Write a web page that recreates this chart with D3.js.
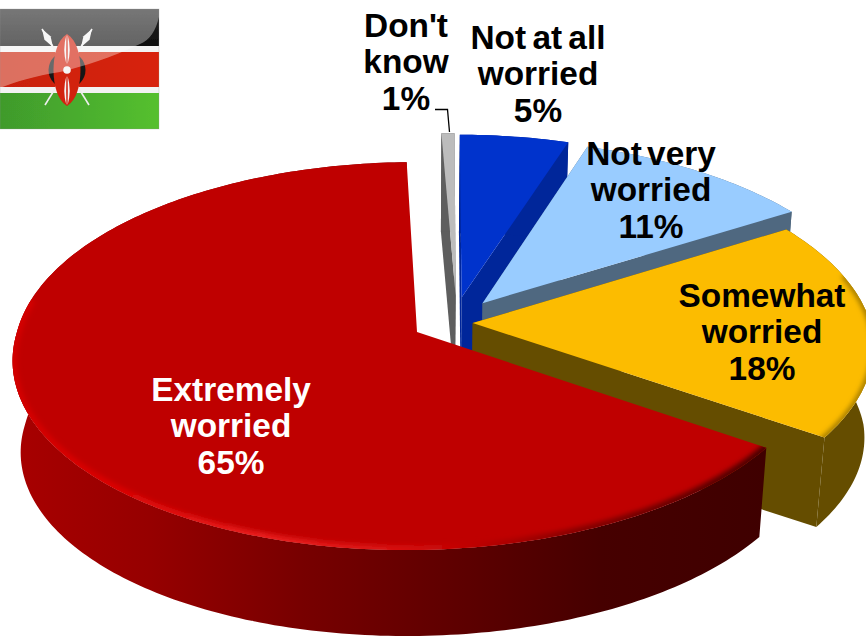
<!DOCTYPE html>
<html><head><meta charset="utf-8">
<script src="https://cdn.jsdelivr.net/npm/d3@7"></script>
<style>html,body{margin:0;padding:0;background:#fff}svg{display:block}</style>
</head><body><svg id="c" width="866" height="638"></svg>
<script>
// ---- data (clockwise from 12 o'clock)
const categories = ["Not at all worried","Not very worried","Somewhat worried","Extremely worried","Don't know"];
const shares = [5, 11, 18.4, 65, 0.6];            // slice sweep
const percentLabels = ["5%","11%","18%","65%","1%"];
const labelLines = [["Not at all","worried"],["Not very","worried"],["Somewhat","worried"],["Extremely","worried"],["Don't","know"]];

// ---- look & layout
const W=866,H=638;
const topColors  = ["#0033cc","#99ccff","#fcbc00","#bf0000","#bcbcbc"];
const sideColors = ["#00269a","#4f6880","#654d00","url(#redRim)","#5e5e5e"];
const textColors = ["#000","#000","#000","#fff","#000"];
const explodeX = [.114,.167,.14,0,.099];   // slice offset on the pie's plane, in radii
const explodeZ = [.185,.154,.047,0,.195];
const labelAt = [[538,37],[651,153],[762,295],[231,389],[406,25]];
const wordGap = [-3,-4,0,0,0];
const drawOrder = [4,0,1,2,3];
const cx=417, cy=332, R=400, T=191, K=.124, DEPTH=86, SHEAR=.05, startDeg=.5;

const svg=d3.select("#c");
const defs=svg.append("defs");
const xS=d3.scaleLinear().domain([-1,1]).range([cx-R,cx+R]);
const yS=d3.scaleLinear().domain([-1,1]).range([cy+T,cy-T]);
const toRad=d=>d*Math.PI/180;
const line=d3.line();

function project(i,theta,r,drop){
  const X=explodeX[i]+r*Math.sin(theta), Z=explodeZ[i]+r*Math.cos(theta);
  const s=1/(1+K*Z);
  const y=yS(Z*s);
  const x=xS(X*s)-SHEAR*Math.max(0,y-cy);
  // the underside sits further from the eye, so it reads slightly smaller
  return drop ? [cx+(x-cx)*.98, y+DEPTH+(550-y)*.03] : [x,y];
}
function rim(i,a,b,drop){
  const n=Math.max(2,Math.ceil(Math.abs(b-a)/toRad(1)));
  return d3.range(n+1).map(k=>project(i,a+(b-a)*k/n,1,drop));
}

// gradients
function grad(id,x1,x2,stops){
  const g=defs.append("linearGradient").attr("id",id).attr("gradientUnits","userSpaceOnUse")
    .attr("x1",x1).attr("x2",x2).attr("y1",0).attr("y2",0);
  stops.forEach(s=>g.append("stop").attr("offset",(s[0]-x1)/(x2-x1)).attr("stop-color",s[1]));
}
grad("redRim",12,767,[[12,"#a80000"],[150,"#960000"],[300,"#780000"],[450,"#5f0000"],[600,"#460000"],[767,"#3f0000"]]);
grad("redGlow",12,767,[[12,"#d40000"],[120,"#dc0404"],[260,"#ea2020"],[400,"#d81010"],[470,"#bf0000"],[570,"#880000"],[767,"#480000"]]);
defs.append("filter").attr("id","soft").attr("x","-10%").attr("y","-10%").attr("width","120%").attr("height","120%")
  .append("feGaussianBlur").attr("stdDeviation",2.4);
defs.append("filter").attr("id","flagSoft").append("feGaussianBlur").attr("stdDeviation",.5);

const pie=d3.pie().value(d=>d).sort(null).startAngle(toRad(startDeg)).endAngle(toRad(startDeg)+2*Math.PI);
const arcs=pie(shares);

const pieG=svg.append("g");
drawOrder.forEach(i=>{
  const a=arcs[i], g=pieG.append("g").attr("class","slice");
  const side=sideColors[i];
  const apexT=project(i,0,0,false), apexB=project(i,0,0,true);
  const e1T=project(i,a.startAngle,1,false), e1B=project(i,a.startAngle,1,true);
  const e2T=project(i,a.endAngle,1,false), e2B=project(i,a.endAngle,1,true);
  if(i!==3){
    g.append("path").attr("d",line([apexT,e1T,e1B,apexB])+"Z").attr("fill",side);
    g.append("path").attr("d",line([apexT,e2T,e2B,apexB])+"Z").attr("fill",side);
  }
  // the wall as one path of small quads, so the silhouette follows the tangent between the two rings
  const up=rim(i,a.startAngle,a.endAngle,false), down=rim(i,a.startAngle,a.endAngle,true);
  const wall=d3.range(up.length-1).map(k=>line([up[k],up[k+1],down[k+1],down[k]])+"Z").join("");
  g.append("path").attr("d",wall).attr("fill",side);
  const topPts=[apexT].concat(up);
  g.append("path").attr("d",line(topPts)+"Z").attr("fill",topColors[i]);
  const clipId="clip"+i;
  defs.append("clipPath").attr("id",clipId).append("path").attr("d",line(topPts)+"Z");
  if(i===3){
    g.append("g").attr("clip-path",`url(#${clipId})`).append("path")
      .attr("d",line(rim(i,a.startAngle-toRad(4),toRad(280),false)))
      .attr("fill","none").attr("stroke","url(#redGlow)").attr("stroke-width",9).attr("filter","url(#soft)");
  }
  if(i===2){
    g.append("g").attr("clip-path",`url(#${clipId})`).append("path")
      .attr("d",line(rim(i,toRad(75),a.endAngle+toRad(3),false)))
      .attr("fill","none").attr("stroke","#9a7400").attr("stroke-width",5).attr("filter","url(#soft)");
  }
});

// labels
const textG=svg.append("g").attr("font-family","'Liberation Sans',Arial,sans-serif").attr("font-weight","700").attr("font-size",33.4).attr("text-anchor","middle");
categories.forEach((c,i)=>{
  const lines=labelLines[i].concat(percentLabels[i]);
  lines.forEach((t,k)=>{
    textG.append("text").attr("x",labelAt[i][0]).attr("y",labelAt[i][1]+11.5+k*36.8)
      .attr("fill",textColors[i]).attr("word-spacing",wordGap[i]).text(t);
  });
});
// leader for "Don't know"
svg.append("path").attr("d",line([[435,109.5],[447.5,109.5],[449.5,132]])).attr("fill","none").attr("stroke","#000").attr("stroke-width",1.3);

// flag of Kenya
const f=svg.append("g").attr("filter","url(#flagSoft)");
const fg=(id,c1,c2,x1,y1,x2,y2)=>{const g=defs.append("linearGradient").attr("id",id).attr("x1",x1).attr("y1",y1).attr("x2",x2).attr("y2",y2);
  g.append("stop").attr("offset",0).attr("stop-color",c1);g.append("stop").attr("offset",1).attr("stop-color",c2);};
fg("fBlack","#2a2a2a","#0c0c0c",0,0,0,1);
fg("fGreen","#3f9a2c","#55c02f",0,0,1,0);
fg("fRed","#c81f08","#d8240a",0,0,1,0);
const bands=[[9,37,"url(#fBlack)"],[46,6,"#f2f2f2"],[52,35,"url(#fRed)"],[87,6,"#f2f2f2"],[93,36,"url(#fGreen)"]];
f.selectAll("rect.b").data(bands).join("rect").attr("x",0).attr("width",159).attr("y",d=>d[0]).attr("height",d=>d[1]).attr("fill",d=>d[2]);
// spears
[[42,29,89,105],[92,29,45,105]].forEach(s=>{
  f.append("line").attr("x1",s[0]).attr("y1",s[1]).attr("x2",s[2]).attr("y2",s[3]).attr("stroke","#eee").attr("stroke-width",1.6);
});
[[42,29,53,47],[92,29,81,47]].forEach(s=>{
  const mx=(s[0]+s[2])/2,my=(s[1]+s[3])/2,dx=(s[3]-s[1])*.17,dy=-(s[2]-s[0])*.17;
  f.append("path").attr("d",`M${s[0]},${s[1]}L${mx+dx},${my+dy}L${s[2]},${s[3]}L${mx-dx},${my-dy}Z`).attr("fill","#f4f4f4");
});
// shield
f.append("ellipse").attr("cx",67).attr("cy",70).attr("rx",18.5).attr("ry",18.5).attr("fill","#161616");
f.append("path").attr("d","M67,34C77,40 80.5,56 80.5,70C80.5,84 77,100 67,106C57,100 53.5,84 53.5,70C53.5,56 57,40 67,34Z").attr("fill","#d2200c");
[[35,64],[76,105]].forEach(r=>{
  [-3.2,3.2].forEach(o=>{
    const mid=(r[0]+r[1])/2;
    f.append("path").attr("d",`M${67+o*.2},${r[0]}Q${67+o*1.5},${mid} ${67+o*.2},${r[1]}Q${67+o*.3},${mid} ${67+o*.2},${r[0]}Z`).attr("fill","#f4f4f4");
  });
});
f.append("circle").attr("cx",67).attr("cy",70).attr("r",3.8).attr("fill","#f4f4f4");
// gloss
f.append("path").attr("d","M0,9H159V17C156,30 150,40 140,44C110,58 85,66 60,72C35,76 15,82 0,88Z").attr("fill","#fff").attr("opacity",.36);
f.append("rect").attr("x",0).attr("y",9).attr("width",159).attr("height",120).attr("fill","none").attr("stroke","#999").attr("stroke-opacity",.4).attr("stroke-width",.7);
</script></body></html>
